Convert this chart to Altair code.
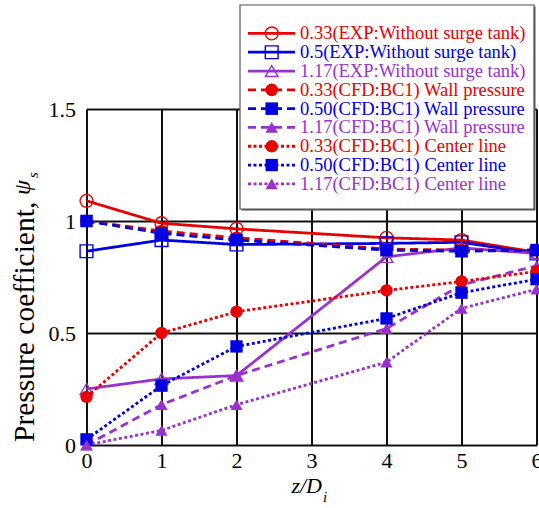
import altair as alt
import pandas as pd

# ---------------- data ----------------
z_vals = [0, 1, 2, 4, 5, 6]

series_names = [
    "0.33(EXP:Without surge tank)",
    "0.5(EXP:Without surge tank)",
    "1.17(EXP:Without surge tank)",
    "0.33(CFD:BC1) Wall pressure",
    "0.50(CFD:BC1) Wall pressure",
    "1.17(CFD:BC1) Wall pressure",
    "0.33(CFD:BC1) Center line",
    "0.50(CFD:BC1) Center line",
    "1.17(CFD:BC1) Center line",
]
series_group = ["exp", "exp", "exp", "wall", "wall", "wall", "center", "center", "center"]

exp_033 = [1.09, 0.99, 0.965, 0.925, 0.915, 0.86]
exp_050 = [0.865, 0.915, 0.895, 0.900, 0.905, 0.855]
exp_117 = [0.25, 0.295, 0.31, 0.84, 0.88, 0.855]
wall_033 = [1.0, 0.955, 0.925, 0.875, 0.87, 0.87]
wall_050 = [1.0, 0.945, 0.915, 0.87, 0.865, 0.87]
wall_117 = [0.0, 0.18, 0.31, 0.52, 0.715, 0.80]
center_033 = [0.215, 0.50, 0.595, 0.69, 0.73, 0.775]
center_050 = [0.025, 0.265, 0.44, 0.565, 0.68, 0.74]
center_117 = [0.0, 0.065, 0.18, 0.37, 0.61, 0.695]

all_values = [exp_033, exp_050, exp_117, wall_033, wall_050, wall_117,
              center_033, center_050, center_117]

x_ticks = [0, 1, 2, 3, 4, 5, 6]
y_ticks = [0, 0.5, 1, 1.5]

# ---------------- styles ----------------
RED, BLUE, PURPLE = "#e80000", "#0000e0", "#9932cc"
colors = [RED, BLUE, PURPLE] * 3
shapes = ["circle", "square", "triangle-up"] * 3
sizes = [165, 150, 175, 320, 280, 240, 55, 64, 75]
FONT = "Liberation Serif"

rows = []
for name, grp, vals in zip(series_names, series_group, all_values):
    for zz, v in zip(z_vals, vals):
        rows.append({"z": zz, "psi": v, "series": name, "group": grp})
df = pd.DataFrame(rows)

legend_df = pd.DataFrame({"series": series_names, "group": series_group})

color_enc = alt.Color("series:N", scale=alt.Scale(domain=series_names, range=colors), legend=None)
shape_enc = alt.Shape("series:N", scale=alt.Scale(domain=series_names, range=shapes), legend=None)
size_enc = alt.Size("series:N", scale=alt.Scale(domain=series_names, range=sizes), legend=None)

x_enc = alt.X("z:Q", scale=alt.Scale(domain=[0, 6], nice=False),
              axis=alt.Axis(values=x_ticks, format="d", title=None, grid=True, ticks=False,
                            domain=False, labelFlush=False, labelFontSize=22, labelFont=FONT,
                            labelColor="black", labelPadding=5, gridColor="#111", gridWidth=2,
                            gridOpacity=1))
y_enc = alt.Y("psi:Q", scale=alt.Scale(domain=[0, 1.5], nice=False),
              axis=alt.Axis(values=y_ticks, format="~g", title=None, grid=True, ticks=False,
                            domain=False, labelFlush=False, labelFontSize=22, labelFont=FONT,
                            labelColor="black", labelPadding=11, gridColor="#111", gridWidth=2,
                            gridOpacity=1))

base = alt.Chart(df).encode(x=x_enc, y=y_enc, color=color_enc)

dash = {"exp": [1, 0], "wall": [8, 5], "center": [3, 2.5]}
main_layers = []
for grp in ["exp", "wall", "center"]:
    sub = base.transform_filter(alt.datum.group == grp)
    main_layers.append(sub.mark_line(strokeWidth=2.8, strokeDash=dash[grp]).encode(detail="series:N"))
    if grp == "exp":
        pts = sub.mark_point(filled=False, strokeWidth=1.4, opacity=1)
    else:
        pts = sub.mark_point(filled=True, opacity=1)
    main_layers.append(pts.encode(shape=shape_enc, size=size_enc))

# ---------------- legend (drawn with marks) ----------------
OX, OY = 86.5, 109  # plot origin on page
ly_enc = alt.Y("series:N", scale=alt.Scale(domain=series_names, range=[24 - OY, 193.3 - OY], padding=0),
               axis=None)
leg = alt.Chart(legend_df).encode(y=ly_enc, color=color_enc)

box_df = pd.DataFrame({"k": [1]})
legend_shadow = alt.Chart(box_df).mark_rect(fill="#555").encode(
    x=alt.value(241.5 - OX), x2=alt.value(535.5 - OX), y=alt.value(6.5 - OY), y2=alt.value(210.5 - OY))
legend_box = alt.Chart(box_df).mark_rect(fill="white", stroke="#555", strokeWidth=1.2).encode(
    x=alt.value(240 - OX), x2=alt.value(534 - OX), y=alt.value(5 - OY), y2=alt.value(209 - OY))

legend_layers = [legend_shadow, legend_box]
for grp in ["exp", "wall", "center"]:
    sub = leg.transform_filter(alt.datum.group == grp)
    legend_layers.append(sub.mark_rule(strokeWidth=2.8, strokeDash=dash[grp]).encode(
        x=alt.value(248 - OX), x2=alt.value(295 - OX)))
for grp in ["exp", "wall", "center"]:
    sub = leg.transform_filter(alt.datum.group == grp)
    if grp == "exp":
        pts = sub.mark_point(filled=False, strokeWidth=1.4, opacity=1)
    else:
        pts = sub.mark_point(filled=True, opacity=1)
    legend_layers.append(pts.encode(x=alt.value(271.7 - OX), shape=shape_enc, size=size_enc))
legend_layers.append(leg.mark_text(align="left", baseline="middle", font=FONT, fontSize=18.5).encode(
    x=alt.value(300 - OX), text="series:N"))

# ---------------- axis titles (text with sub/italics) ----------------
t_df = pd.DataFrame({"a": ["Pressure coefficient,"], "b": ["\u03c8"], "c": ["s"],
                     "d": ["z/D"], "e": ["i"]})
tb = alt.Chart(t_df)
titles = [
    tb.mark_text(angle=270, align="left", baseline="alphabetic", font=FONT, fontSize=29.5,
                 color="black").encode(text="a:N", x=alt.value(34 - OX), y=alt.value(442 - OY)),
    tb.mark_text(angle=270, align="left", baseline="alphabetic", font=FONT, fontSize=24,
                 fontStyle="italic", color="black").encode(text="b:N", x=alt.value(30 - OX),
                                                         y=alt.value(195 - OY)),
    tb.mark_text(angle=270, align="left", baseline="alphabetic", font=FONT, fontSize=15,
                 fontStyle="italic", color="black").encode(text="c:N", x=alt.value(38 - OX),
                                                         y=alt.value(178 - OY)),
    tb.mark_text(align="right", baseline="alphabetic", font=FONT, fontSize=22,
                 fontStyle="italic", color="black").encode(text="d:N", x=alt.value(322 - OX),
                                                         y=alt.value(493 - OY)),
    tb.mark_text(align="left", baseline="alphabetic", font=FONT, fontSize=15,
                 fontStyle="italic", color="black").encode(text="e:N", x=alt.value(323 - OX),
                                                         y=alt.value(502 - OY)),
]

main = alt.layer(*main_layers)
legend = alt.layer(*legend_layers)

chart = alt.layer(main, legend, *titles).resolve_scale(y="independent").properties(
    width=450, height=336,
    autosize=alt.AutoSizeParams(type="none"),
    padding={"left": OX, "top": OY, "right": 539 - OX - 450, "bottom": 508 - OY - 336},
).configure_view(stroke="black", strokeWidth=2).configure(background="white")

chart.save("out.html", embed_options={"renderer": "svg", "actions": False})
